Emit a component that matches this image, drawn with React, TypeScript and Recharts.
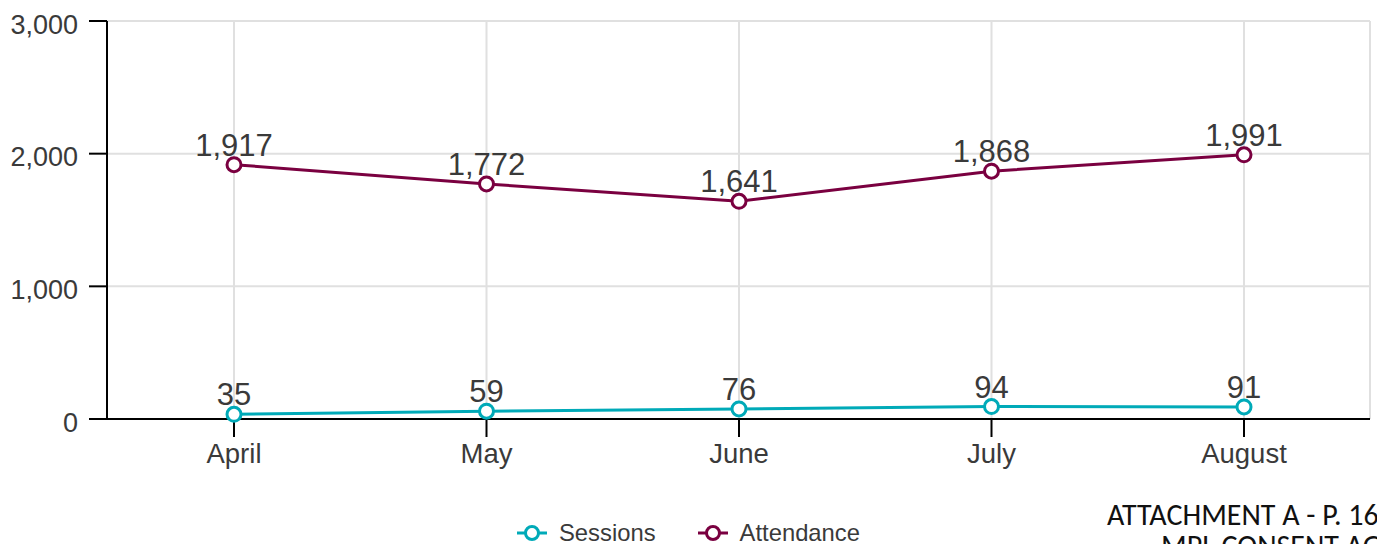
import React from "react";
import { LineChart, Line, XAxis, YAxis, CartesianGrid, LabelList } from "recharts";

const months = ["April", "May", "June", "July", "August"];
const sessions = [35, 59, 76, 94, 91];
const attendance = [1917, 1772, 1641, 1868, 1991];
const yTicks = [0, 1000, 2000, 3000];

const SESS = "#00AAB8";
const ATT = "#7A0040";
const TXT = "#3a3a3a";
const FONT = "'Liberation Sans', Arial, sans-serif";

const data = months.map((m, i) => ({ month: m, Sessions: sessions[i], Attendance: attendance[i] }));

const fmt = (v: number) => v.toLocaleString("en-US");

const YTick = (props: any) => {
  const { x, y, payload } = props;
  return (
    <text x={x} y={y + 3} dy="0.355em" textAnchor="end" fill={TXT} fontSize={27} fontFamily={FONT}>
      {fmt(payload.value)}
    </text>
  );
};

const XTick = (props: any) => {
  const { x, y, payload } = props;
  return (
    <text x={x} y={y} dy="0.71em" textAnchor="middle" fill={TXT} fontSize={27.5} fontFamily={FONT}>
      {payload.value}
    </text>
  );
};

const LegendIcon = ({ color }: { color: string }) => (
  <svg width={32} height={20} style={{ display: "block" }}>
    <line x1={1} y1={10} x2={31} y2={10} stroke={color} strokeWidth={3} />
    <circle cx={16} cy={10} r={6.5} fill="#fff" stroke={color} strokeWidth={3} />
  </svg>
);

export default function App() {
  return (
    <div style={{ position: "absolute", left: 0, top: 0, width: 1377, height: 544, overflow: "hidden", background: "#fff" }}>
      <LineChart width={1377} height={544} data={data} margin={{ top: 21, right: 7, bottom: 0, left: 0 }}>
        <CartesianGrid stroke="#e0e0e0" strokeWidth={2} />
        <XAxis
          dataKey="month"
          padding={{ left: 127, right: 126 }}
          height={125}
          tickSize={18}
          tickMargin={6}
          axisLine={{ stroke: "#000", strokeWidth: 2 }}
          tickLine={{ stroke: "#000", strokeWidth: 2 }}
          tick={<XTick />}
          interval={0}
        />
        <YAxis
          domain={[0, 3000]}
          ticks={yTicks}
          width={107}
          tickSize={18}
          tickMargin={11}
          axisLine={{ stroke: "#000", strokeWidth: 2 }}
          tickLine={{ stroke: "#000", strokeWidth: 2 }}
          tick={<YTick />}
          interval={0}
        />
        <Line
          dataKey="Sessions"
          stroke={SESS}
          strokeWidth={3}
          dot={{ r: 7, fill: "#fff", stroke: SESS, strokeWidth: 3 }}
          activeDot={false}
          isAnimationActive={false}
        >
          <LabelList dataKey="Sessions" position="top" offset={9} fill={TXT} fontSize={31} fontFamily={FONT} formatter={(v: any) => fmt(v)} />
        </Line>
        <Line
          dataKey="Attendance"
          stroke={ATT}
          strokeWidth={3}
          dot={{ r: 7, fill: "#fff", stroke: ATT, strokeWidth: 3 }}
          activeDot={false}
          isAnimationActive={false}
        >
          <LabelList dataKey="Attendance" position="top" offset={9} fill={TXT} fontSize={31} fontFamily={FONT} formatter={(v: any) => fmt(v)} />
        </Line>
      </LineChart>
      <div style={{ position: "absolute", left: 516, top: 523, display: "flex", alignItems: "center", fontFamily: FONT, fontSize: 23.8, color: TXT, lineHeight: "20px" }}>
        <LegendIcon color={SESS} />
        <span style={{ marginLeft: 11 }}>Sessions</span>
        <span style={{ width: 41 }} />
        <LegendIcon color={ATT} />
        <span style={{ marginLeft: 11 }}>Attendance</span>
      </div>
      <div style={{ position: "absolute", left: 1107, top: 500, fontFamily: "Carlito, 'Open Sans', sans-serif", fontSize: 30, color: "#111", whiteSpace: "nowrap", lineHeight: "30px" }}>
        ATTACHMENT A - P. 16
      </div>
      <div style={{ position: "absolute", left: 1161, top: 531, fontFamily: "Carlito, 'Open Sans', sans-serif", fontSize: 30, color: "#111", whiteSpace: "nowrap", lineHeight: "30px" }}>
        MPL CONSENT AGENDA
      </div>
    </div>
  );
}
